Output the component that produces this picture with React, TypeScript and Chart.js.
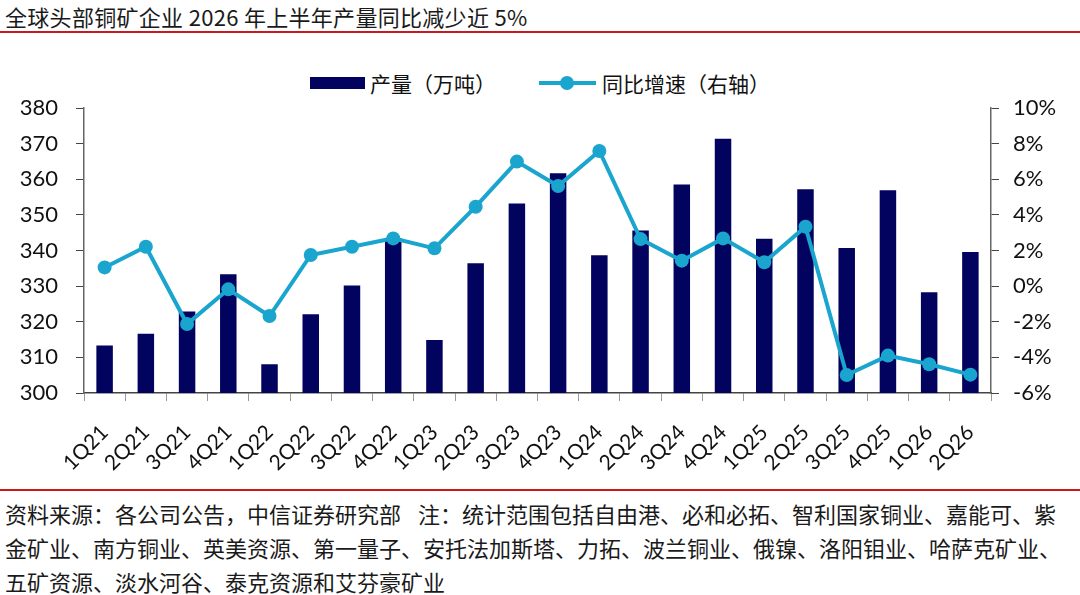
import { useEffect, useRef } from "react";
import Chart from "chart.js/auto";

const quarters = [
  "1Q21", "2Q21", "3Q21", "4Q21", "1Q22", "2Q22", "3Q22", "4Q22", "1Q23", "2Q23", "3Q23",
  "4Q23", "1Q24", "2Q24", "3Q24", "4Q24", "1Q25", "2Q25", "3Q25", "4Q25", "1Q26", "2Q26",
];
// 产量（万吨）
const output = [
  313.3, 316.6, 322.9, 333.3, 308.1, 322.1, 330.2, 343.5, 314.9, 336.4, 353.2,
  361.7, 338.7, 345.6, 358.5, 371.4, 343.3, 357.2, 340.7, 356.9, 328.3, 339.6,
];
// 同比增速（%）
const yoy = [
  1.05, 2.21, -2.13, -0.18, -1.68, 1.75, 2.21, 2.68, 2.12, 4.46, 6.99,
  5.62, 7.59, 2.64, 1.43, 2.68, 1.34, 3.34, -4.99, -3.9, -4.39, -4.97,
];

const NAVY = "#02035f";
const CYAN = "#1aa5cf";
const RED = "#c8191f";
const CJK = '"Noto Sans CJK SC", "Noto Sans", sans-serif';

export default function App() {
  const canvasRef = useRef<HTMLCanvasElement>(null);

  useEffect(() => {
    document.body.style.margin = "0";
    if (!canvasRef.current) return;
    const chart = new Chart(canvasRef.current, {
      type: "bar",
      data: {
        labels: quarters,
        datasets: [
          {
            type: "line",
            label: "同比增速（右轴）",
            data: yoy,
            yAxisID: "y1",
            borderColor: CYAN,
            backgroundColor: CYAN,
            borderWidth: 4,
            pointRadius: 7,
            pointBorderWidth: 0,
            pointBackgroundColor: CYAN,
            tension: 0,
            order: 1,
          },
          {
            type: "bar",
            label: "产量（万吨）",
            data: output,
            yAxisID: "y",
            backgroundColor: NAVY,
            barPercentage: 0.4,
            categoryPercentage: 1,
            order: 2,
          },
        ],
      },
      options: {
        animation: false,
        responsive: true,
        maintainAspectRatio: false,
        layout: { padding: { top: 68, left: 0, right: 0, bottom: 0 } },
        plugins: { legend: { display: false }, tooltip: { enabled: false } },
        scales: {
          x: {
            afterFit: (s: any) => {
              s.height = 87;
            },
            grid: { drawOnChartArea: false, tickLength: 8, color: "#999", offset: true },
            border: { color: "#444", width: 1.5 },
            ticks: {
              autoSkip: false,
              minRotation: 45,
              maxRotation: 45,
              padding: 19,
              color: "#111",
              font: { family: "Lato, sans-serif", size: 21 },
            },
          },
          y: {
            position: "left",
            min: 300,
            max: 380,
            afterFit: (s: any) => {
              s.width = 84;
            },
            grid: { drawOnChartArea: false, tickLength: 8, color: "#444" },
            border: { color: "#666", width: 1.5 },
            ticks: {
              stepSize: 10,
              padding: 18,
              color: "#111",
              font: { family: "Lato, sans-serif", size: 22 },
            },
          },
          y1: {
            position: "right",
            min: -6,
            max: 10,
            afterFit: (s: any) => {
              s.width = 89;
            },
            grid: { drawOnChartArea: false, tickLength: 8, color: "#444" },
            border: { color: "#666", width: 1.5 },
            ticks: {
              stepSize: 2,
              padding: 14,
              color: "#111",
              font: { family: "Lato, sans-serif", size: 22 },
              callback: (v: any) => `${v}%`,
            },
          },
        },
      },
    });
    return () => chart.destroy();
  }, []);

  return (
    <div style={{ position: "relative", width: 1080, height: 595, background: "#fff", fontFamily: CJK, overflow: "hidden" }}>
      <div style={{ position: "absolute", left: 5, top: 3, fontSize: 22, lineHeight: "26px", letterSpacing: 0.3, color: "#1a1a1a", whiteSpace: "nowrap" }}>
        全球头部铜矿企业 2026 年上半年产量同比减少近 5%
      </div>
      <div style={{ position: "absolute", left: 0, top: 31, width: 1080, height: 2, background: RED }} />

      <div style={{ position: "absolute", left: 310, top: 77, width: 55, height: 12, background: NAVY }} />
      <div style={{ position: "absolute", left: 370, top: 70, fontSize: 21, lineHeight: "26px", color: "#111", whiteSpace: "nowrap" }}>
        产量（万吨）
      </div>
      <div style={{ position: "absolute", left: 539, top: 81, width: 57, height: 4, background: CYAN }} />
      <div style={{ position: "absolute", left: 560, top: 76, width: 14, height: 14, borderRadius: 7, background: CYAN }} />
      <div style={{ position: "absolute", left: 602, top: 70, fontSize: 21, lineHeight: "26px", color: "#111", whiteSpace: "nowrap" }}>
        同比增速（右轴）
      </div>

      <div style={{ position: "absolute", left: 0, top: 40, width: 1080, height: 440 }}>
        <canvas ref={canvasRef} />
      </div>

      <div style={{ position: "absolute", left: 0, top: 489, width: 1080, height: 2, background: RED }} />
      <div style={{ position: "absolute", left: 5, top: 496, fontSize: 22, lineHeight: "34px", color: "#1a1a1a", whiteSpace: "nowrap" }}>
        <div>
          资料来源：各公司公告，中信证券研究部<span style={{ display: "inline-block", width: 17 }} />注：统计范围包括自由港、必和必拓、智利国家铜业、嘉能可、紫
        </div>
        <div>金矿业、南方铜业、英美资源、第一量子、安托法加斯塔、力拓、波兰铜业、俄镍、洛阳钼业、哈萨克矿业、</div>
        <div>五矿资源、淡水河谷、泰克资源和艾芬豪矿业</div>
      </div>
    </div>
  );
}
